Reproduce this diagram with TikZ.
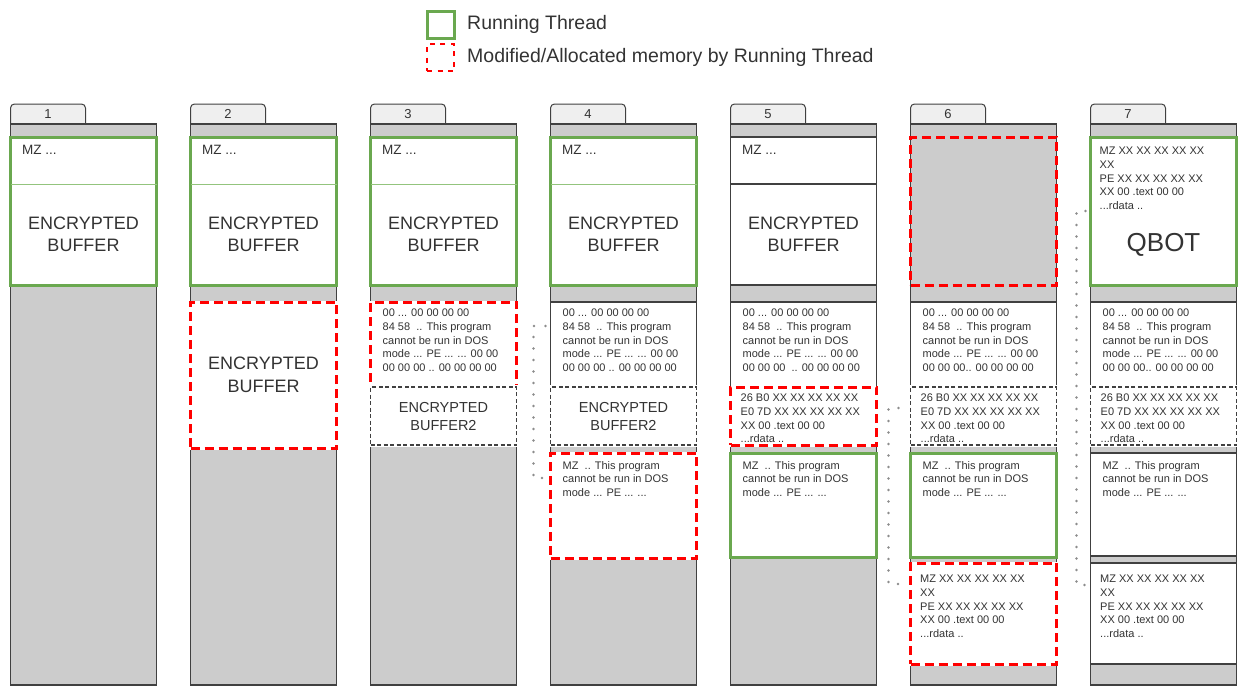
\documentclass[tikz,border=0pt]{standalone}
\usepackage{fontspec}
\setmainfont{Liberation Sans}
\usepackage{xcolor}
\usepackage{tikz}
\usetikzlibrary{positioning, calc}

\definecolor{memgray}{HTML}{CCCCCC}
\definecolor{tabgray}{HTML}{EFEFEF}
\definecolor{edgegray}{HTML}{404040}
\definecolor{rungreen}{HTML}{6AA84F}
\definecolor{lightgreen}{HTML}{93C47D}
\definecolor{modred}{HTML}{FF0000}
\definecolor{txtgray}{HTML}{333333}
\definecolor{dotgray}{HTML}{8C8C8C}

% memory dumps shown in the cells
\newcommand{\hexlines}[1]{00 ... 00 00 00 00\\84 58 ~.. This program\\cannot be run in DOS\\mode ... PE ... ... 00 00\\#1}
\newcommand{\sectlines}{26 B0 XX XX XX XX XX\\E0 7D XX XX XX XX XX\\XX 00 .text 00 00\\...rdata ..}
\newcommand{\stublines}{MZ ~.. This program\\cannot be run in DOS\\mode ... PE ... ...}
\newcommand{\peheader}{MZ XX XX XX XX XX\\XX\\PE XX XX XX XX XX\\XX 00 .text 00 00\\...rdata ..}

\tikzset{
  colbox/.style={draw=edgegray, line width=1.5pt, fill=memgray, minimum width=146pt, minimum height=561pt, inner sep=0pt, outer sep=0pt, anchor=north west},
  tabbox/.style={draw=edgegray, line width=1pt, fill=tabgray, rounded corners=4pt, minimum width=75pt, minimum height=24pt, inner sep=0pt, outer sep=0pt, anchor=north west, text=txtgray, font=\fontsize{13}{15}\selectfont, text height=9pt, text depth=4pt},
  cell/.style={draw=edgegray, line width=1.5pt, fill=white, minimum width=146pt, inner sep=0pt, outer sep=0pt, anchor=north west},
  runbox/.style={cell, draw=rungreen, line width=3pt},
  modline/.style={cell, fill=none, draw=modred, line width=3pt, dash pattern=on 9pt off 5pt},
  modbox/.style={modline, fill=white, preaction={draw=white, solid}},
  dashbox/.style={cell, line width=1.2pt, dash pattern=on 4pt off 2.5pt, preaction={draw=white, solid, line width=4pt}},
  bigtxt/.style={font=\fontsize{18}{22.5}\selectfont, text=txtgray, align=center},
  midtxt/.style={font=\fontsize{14.5}{18}\selectfont, text=txtgray, align=center},
  smalltxt/.style={font=\fontsize{11}{13.7}\selectfont, text=txtgray, align=left, inner sep=0pt},
  mztxt/.style={font=\fontsize{13.5}{16}\selectfont, text=txtgray, inner sep=0pt},
  legtxt/.style={font=\fontsize{19.5}{23}\selectfont, text=txtgray, inner sep=0pt},
  dotconn/.style={draw=dotgray, line width=2.6pt, line cap=round, dash pattern=on 0pt off 11.5pt}
}

\begin{document}
\begin{tikzpicture}[x=1pt, y=-1pt]
  \useasboundingbox (0,0) rectangle (1238,686);

  % Legend
  \node[runbox, minimum width=27pt, minimum height=27pt] (legrun) at (427,11) {};
  \node[modline, line width=2.5pt, dash pattern=on 5pt off 5.5pt, minimum width=27pt, minimum height=27pt] (legmod) at (427,44) {};
  \node[legtxt, right=13pt of legrun] (legruntxt) {Running Thread};
  \node[legtxt, right=13pt of legmod] (legmodtxt) {Modified/Allocated memory by Running Thread};

  % Columns with their tabs
  \foreach \i in {1,...,7}{
    \pgfmathsetmacro{\xl}{10.5+180*(\i-1)}
    \node[tabbox] (tab\i) at (\xl,104) {\i};
    \node[colbox] (col\i) at (\xl,124) {};
  }

  % Running thread at the top, columns 1-4
  \foreach \i in {1,...,4}{
    \pgfmathsetmacro{\xl}{10.5+180*(\i-1)}
    \node[runbox, minimum height=148pt] (top\i) at (\xl,137) {};
    \draw[lightgreen, line width=1pt] ([yshift=-47pt]top\i.north west) -- ([yshift=-47pt]top\i.north east);
    \node[mztxt, below right=8pt and 11.5pt of top\i.north west] (mzh\i) {MZ ...};
    \node[bigtxt] (enc\i) at ($(top\i.south)!0.5!([yshift=-47pt]top\i.north)$) {ENCRYPTED\\BUFFER};
  }

  % Column 2
  \node[modbox, bigtxt, minimum height=146pt] (buf2) at (190.5,302) {ENCRYPTED\\BUFFER};

  % Column 3
  \node[modbox, minimum height=85pt] (hex3) at (370.5,302) {};
  \node[smalltxt, below right=7pt and 12pt of hex3.north west] (hexa3) {\hexlines{00 00 00 .. 00 00 00 00}};
  \node[dashbox, midtxt, minimum height=58pt] (sec3) at (370.5,387) {ENCRYPTED\\BUFFER2};

  % Column 4
  \node[cell, minimum height=85pt] (hex4) at (550.5,302) {};
  \node[smalltxt, below right=7pt and 12pt of hex4.north west] (hexa4) {\hexlines{00 00 00 .. 00 00 00 00}};
  \node[dashbox, midtxt, minimum height=58pt] (sec4) at (550.5,387) {ENCRYPTED\\BUFFER2};
  \node[modbox, minimum height=105pt] (mz4) at (550.5,453) {};
  \node[smalltxt, below right=8pt and 12pt of mz4.north west] (stub4) {\stublines};

  % Column 5
  \node[cell, minimum height=148pt] (top5) at (730.5,137) {};
  \draw[edgegray, line width=1.2pt] ([yshift=-47pt]top5.north west) -- ([yshift=-47pt]top5.north east);
  \node[mztxt, below right=8pt and 11.5pt of top5.north west] (mzh5) {MZ ...};
  \node[bigtxt] (enc5) at ($(top5.south)!0.5!([yshift=-47pt]top5.north)$) {ENCRYPTED\\BUFFER};
  \node[cell, minimum height=85pt] (hex5) at (730.5,302) {};
  \node[smalltxt, below right=7pt and 12pt of hex5.north west] (hexa5) {\hexlines{00 00 00 ~.. 00 00 00 00}};
  \node[modbox, minimum height=58pt] (sec5) at (730.5,387) {};
  \node[smalltxt, below right=7pt and 10pt of sec5.north west] (seca5) {\sectlines};
  \node[runbox, minimum height=104pt] (mz5) at (730.5,453) {};
  \node[smalltxt, below right=8pt and 12pt of mz5.north west] (stub5) {\stublines};

  % Column 6
  \node[modline, minimum height=148pt] (top6) at (910.5,137) {};
  \node[cell, minimum height=85pt] (hex6) at (910.5,302) {};
  \node[smalltxt, below right=7pt and 12pt of hex6.north west] (hexa6) {\hexlines{00 00 00.. 00 00 00 00}};
  \node[dashbox, minimum height=58pt] (sec6) at (910.5,387) {};
  \node[smalltxt, below right=7pt and 10pt of sec6.north west] (seca6) {\sectlines};
  \node[runbox, minimum height=104pt] (mz6) at (910.5,453) {};
  \node[smalltxt, below right=8pt and 12pt of mz6.north west] (stub6) {\stublines};
  \node[modbox, minimum height=101pt] (pe6) at (910.5,563) {};
  \node[smalltxt, below right=12pt and 9.5pt of pe6.north west] (pea6) {\peheader};

  % Column 7
  \node[runbox, minimum height=148pt] (top7) at (1090.5,137) {};
  \node[smalltxt, below right=10pt and 9pt of top7.north west] (pea7) {\peheader};
  \node[font=\fontsize{26}{30}\selectfont, text=txtgray] (qbot) at (1163.5,245) {QBOT};
  \node[cell, minimum height=85pt] (hex7) at (1090.5,302) {};
  \node[smalltxt, below right=7pt and 12pt of hex7.north west] (hexa7) {\hexlines{00 00 00.. 00 00 00 00}};
  \node[dashbox, minimum height=58pt] (sec7) at (1090.5,387) {};
  \node[smalltxt, below right=7pt and 10pt of sec7.north west] (seca7) {\sectlines};
  \node[cell, minimum height=103pt] (mz7) at (1090.5,453) {};
  \node[smalltxt, below right=8pt and 12pt of mz7.north west] (stub7) {\stublines};
  \node[cell, minimum height=101pt] (pe7) at (1090.5,563) {};
  \node[smalltxt, below right=12pt and 9.5pt of pe7.north west] (peb7) {\peheader};

  % Dotted links
  \draw[dotconn] ($(hex4.north west)+(-5,24)$) -- ++(-12,0) |- ($(mz4.north west)+(-5,25)$);
  \draw[dotconn] ($(sec6.north west)+(-12,21)$) -- ++(-10,0) |- ($(pe6.north west)+(-12,21)$);
  \draw[dotconn] ($(top7.north west)+(-5,74)$) -- ++(-9,0) |- ($(pe7.north west)+(-5,22)$);
\end{tikzpicture}
\end{document}
